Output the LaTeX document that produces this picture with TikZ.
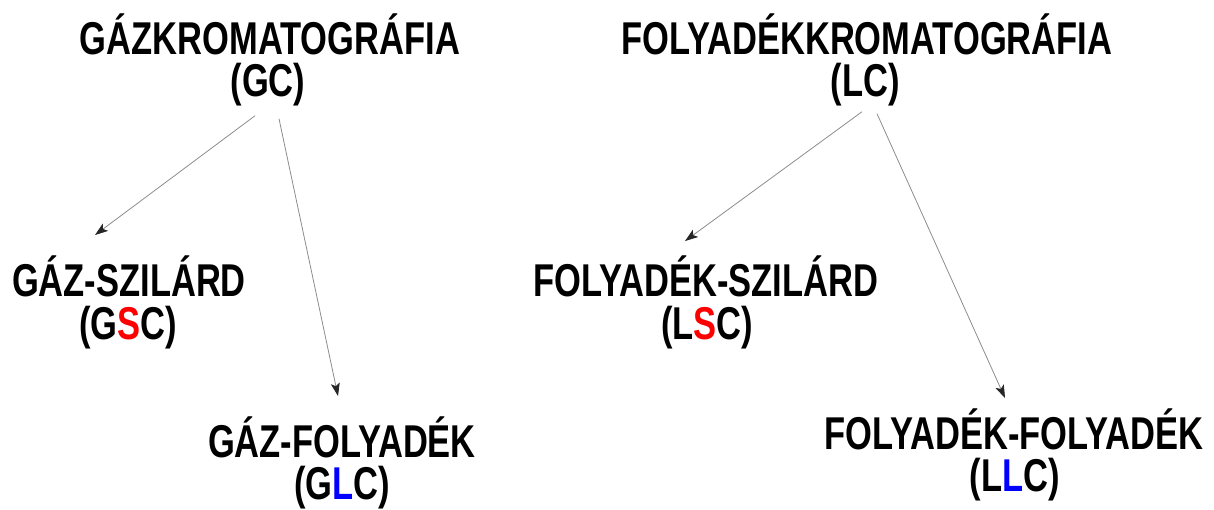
\documentclass[tikz,border=0pt]{standalone}
\usepackage{fontspec}
\setmainfont{Liberation Sans}
\usetikzlibrary{arrows.meta}
\definecolor{sred}{RGB}{255,0,0}
\definecolor{lblue}{RGB}{0,0,255}
\tikzset{
  label/.style={anchor=base, inner sep=0pt, xscale=0.75,
    font=\fontsize{46}{46}\selectfont\bfseries},
  link/.style={draw=black!45, line width=0.8pt,
    -{Stealth[length=13pt,width=9pt,inset=3pt,color=black!85]}}
}
\begin{document}
\begin{tikzpicture}[x=1pt,y=-1pt]
\useasboundingbox (0,0) rectangle (1214,510);
% gas chromatography branch
\node[label] (gc)   at (270,55)  {GÁZKROMATOGRÁFIA};
\node[label] (gcab) at (268,97)  {(GC)};
\node[label] (gs)   at (129,297) {GÁZ-SZILÁRD};
\node[label] (gsab) at (128,339) {(G\textcolor{sred}{S}C)};
\node[label] (gl)   at (342,457) {GÁZ-FOLYADÉK};
\node[label] (glab) at (342,499) {(G\textcolor{lblue}{L}C)};
% liquid chromatography branch
\node[label] (lc)   at (867,55)  {FOLYADÉKKROMATOGRÁFIA};
\node[label] (lcab) at (865,97)  {(LC)};
\node[label] (ls)   at (706,297) {FOLYADÉK-SZILÁRD};
\node[label] (lsab) at (707,339) {(L\textcolor{sred}{S}C)};
\node[label] (ll)   at (1014,449) {FOLYADÉK-FOLYADÉK};
\node[label] (llab) at (1015,491) {(L\textcolor{lblue}{L}C)};
% connectors
\draw[link] ([xshift=-13pt,yshift=-9pt]gcab.south) -- ([xshift=-34pt,yshift=21pt]gs.north);
\draw[link] ([xshift=11pt,yshift=-12pt]gcab.south) -- ([xshift=-4pt,yshift=20pt]gl.north);
\draw[link] ([xshift=-3pt,yshift=-5pt]lcab.south) -- ([xshift=-21pt,yshift=15pt]ls.north);
\draw[link] ([xshift=12pt,yshift=-7pt]lcab.south) -- ([xshift=-9pt,yshift=10pt]ll.north);
\end{tikzpicture}
\end{document}
